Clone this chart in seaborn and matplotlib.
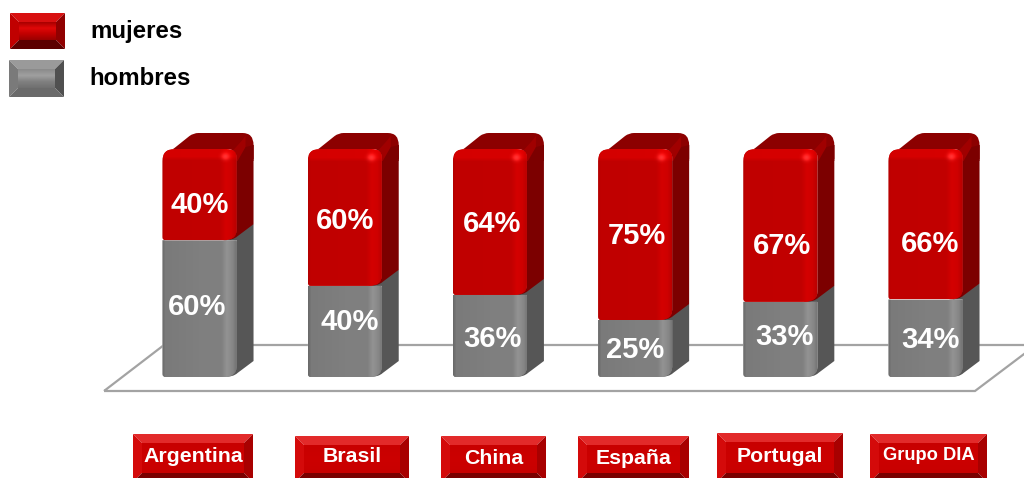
import numpy as np
import pandas as pd
import matplotlib
matplotlib.use("Agg")
import matplotlib.pyplot as plt
import seaborn as sns
from matplotlib.path import Path
from matplotlib.patches import PathPatch, Polygon
from matplotlib.transforms import IdentityTransform
from matplotlib.colors import to_rgb

categories = ["Argentina", "Brasil", "China", "España", "Portugal", "Grupo DIA"]
hombres = [60, 40, 36, 25, 33, 34]
mujeres = [40, 60, 64, 75, 67, 66]
series_names = ["mujeres", "hombres"]

# layout (pixels, y down)
W, H = 1024, 478
muj_off = [(0.5, -10), (0, -4), (2, -2), (2, -1.5), (2, -21), (4.5, -20)]
hom_off = [(-2.5, 1.5), (5, 9.5), (3, -3), (0, -1.5), (4, 2.5), (4.5, -2)]
buttons = [(133, 434, 253), (295, 436, 409), (441, 436, 546),
           (578, 436, 689), (717, 433, 843), (870, 434, 987)]
button_font = [15.3, 15.3, 15.3, 15.3, 15.3, 13.2]
button_dy = [23, 20, 23, 23, 23, 21]

sns.set_theme(style="white")
plt.rcParams["font.family"] = ["Liberation Sans", "DejaVu Sans"]
fig = plt.figure(figsize=(W / 100, H / 100), dpi=100, facecolor="white")

# backdrop axes in pixel units: floor, legend, category buttons
bg = fig.add_axes([0, 0, 1, 1])
bg.set_xlim(0, W)
bg.set_ylim(H, 0)
bg.axis("off")

floor = [(104, 391), (975, 391), (1036, 345), (164, 345)]
bg.add_patch(Polygon(floor, closed=True, fill=False, ec="#a3a3a3", lw=1.6, zorder=1))


def bevel(x0, y0, x1, y1, b, cols, center):
    t, l, r, bt = cols
    bg.add_patch(Polygon([(x0, y0), (x1, y0), (x1 - b, y0 + b), (x0 + b, y0 + b)], fc=t, ec="none"))
    bg.add_patch(Polygon([(x0, y0), (x0 + b, y0 + b), (x0 + b, y1 - b), (x0, y1)], fc=l, ec="none"))
    bg.add_patch(Polygon([(x1, y0), (x1 - b, y0 + b), (x1 - b, y1 - b), (x1, y1)], fc=r, ec="none"))
    bg.add_patch(Polygon([(x0, y1), (x0 + b, y1 - b), (x1 - b, y1 - b), (x1, y1)], fc=bt, ec="none"))
    stops = np.array([to_rgb(c) for c in center])
    v = np.linspace(0, 1, 40)
    img = np.stack([np.interp(v, np.linspace(0, 1, len(stops)), stops[:, k]) for k in range(3)], axis=1)[:, None, :]
    bg.imshow(img, extent=(x0 + b, x1 - b, y1 - b, y0 + b), aspect="auto", interpolation="bilinear", zorder=1.5)
    bg.set_xlim(0, W)
    bg.set_ylim(H, 0)


# legend swatches
bevel(10, 13, 65, 49, 9, ("#d81010", "#c00000", "#900000", "#5c0000"),
      ["#a80000", "#e00808", "#c00000", "#9a0000"])
bevel(9, 60, 64, 97, 9, ("#9a9a9a", "#7a7a7a", "#505050", "#6a6a6a"),
      ["#8a8a8a", "#a0a0a0", "#808080", "#707070"])
bg.text(90, 31, series_names[0], fontsize=17.3, fontweight="bold", color="black", va="center", ha="left")
bg.text(89, 78, series_names[1], fontsize=17.3, fontweight="bold", color="black", va="center", ha="left")

# category buttons
for name, (x0, y0, x1), fs, dy in zip(categories, buttons, button_font, button_dy):
    bevel(x0, y0, x1, 482, 9, ("#e22a2a", "#d40a0a", "#a80000", "#7a0000"),
          ["#c80000", "#cc0000", "#c80000"])
    bg.text((x0 + x1) / 2, y0 + dy, name, fontsize=fs, fontweight="bold", color="white",
            ha="center", va="center")

# bars axes: the scale maps 0-100 onto the bar height
ax = fig.add_axes([126.9 / W, (H - 377) / H, 871.2 / W, 228 / H])
ax.patch.set_alpha(0)
df = pd.DataFrame({"pais": categories, "hombres": hombres, "mujeres": mujeres})
sns.barplot(data=df, x="pais", y="hombres", color="#808080", saturation=1, width=0.51, ax=ax, zorder=2)
sns.barplot(data=df, x="pais", y="mujeres", bottom=df["hombres"], color="#c00000", saturation=1,
            width=0.51, ax=ax, zorder=2)
ax.set_xlim(-0.5, 5.5)
ax.set_ylim(0, 100)
ax.autoscale(False)
ax.axis("off")

ID = IdentityTransform()
DX, DY = 17, 16
n = len(categories)
hom_bars, muj_bars = ax.patches[:n], ax.patches[n:n * 2]


def to_disp(bar):
    (L, b), (R, T) = ax.transData.transform([(bar.get_x(), bar.get_y()),
                                             (bar.get_x() + bar.get_width(), bar.get_y() + bar.get_height())])
    return L, R, b, T


def front_path(L, R, b, T, cap):
    rt = 12 if cap else 0
    rr = 10
    lb = 3
    v = [(L + lb, b), (R - 13, b), (R, b), (R, b + rr)]
    c = [Path.MOVETO, Path.LINETO, Path.CURVE3, Path.CURVE3]
    if cap:
        v += [(R, T - 8), (R, T), (R - 10, T), (L + rt, T), (L, T), (L, T - rt)]
        c += [Path.LINETO, Path.CURVE3, Path.CURVE3, Path.LINETO, Path.CURVE3, Path.CURVE3]
    else:
        v += [(R, T), (L, T)]
        c += [Path.LINETO, Path.LINETO]
    v += [(L, b + lb), (L, b), (L + lb, b), (L + lb, b)]
    c += [Path.LINETO, Path.CURVE3, Path.CURVE3, Path.CLOSEPOLY]
    return Path(v, c)


def side_path(R, b, T):
    v = [(R - 13, b), (R - 3, b), (R + 1, b + 4), (R + DX, b + DY), (R + DX, T + DY), (R - 13, T + DY), (R - 13, b)]
    c = [Path.MOVETO, Path.CURVE3, Path.CURVE3, Path.LINETO, Path.LINETO, Path.LINETO, Path.CLOSEPOLY]
    return Path(v, c)


RED_U = (np.array([0, .03, .78, .86, .93, 1]), ["#b40000", "#c00000", "#c20000", "#d40000", "#cf0000", "#b80000"])
GRY_U = (np.array([0, .04, .5, .8, .87, .95, 1]), ["#6a6a6a", "#7a7a7a", "#7f7f7f", "#808080", "#939393", "#868686", "#727272"])


def face_image(L, R, b, T, ramp, cap):
    w, h = int(R - L) + 1, max(int(T - b) + 1, 2)
    u = np.linspace(0, 1, w)
    stops = np.array([to_rgb(c) for c in ramp[1]])
    row = np.stack([np.interp(u, ramp[0], stops[:, k]) for k in range(3)], axis=1)
    img = np.repeat(row[None, :, :], h, axis=0)
    if cap:
        yy = np.arange(h)[:, None]
        band = np.clip((12 - yy) / 4, 0, 1)
        img = img.copy()
        img[:, :, 0] = np.clip(img[:, :, 0] + 0.08 * band, 0, 1)
        xx = np.arange(w)[None, :]
        blob = np.exp(-(((xx - (w - 12)) / 4.0) ** 2 + ((yy - 8) / 3.5) ** 2))
        img[:, :, 0] = np.clip(img[:, :, 0] + 0.2 * blob, 0, 1)
        img[:, :, 1] = np.clip(img[:, :, 1] + 0.2 * blob, 0, 1)
        img[:, :, 2] = np.clip(img[:, :, 2] + 0.2 * blob, 0, 1)
    return img


def draw_segment(bar, ramp, side_col, cap, z):
    L, R, b, T = to_disp(bar)
    top = T - 12 if cap else T
    ax.add_patch(PathPatch(side_path(R, b, top), fc=side_col, ec="none", transform=ID, zorder=z, clip_on=False))
    if cap:
        sil = Path([(L + 1, T - 12), (L + 4, T - 4), (L + 12, T + 1), (L + 27, T + DY - 3), (L + 31, T + DY),
                    (L + 36, T + DY), (R + 6, T + DY), (R + DX, T + DY), (R + DX, T + DY - 12),
                    (R + DX, T - 10), (R, T - 10), (L + 1, T - 12)],
                   [Path.MOVETO, Path.CURVE3, Path.CURVE3, Path.LINETO, Path.CURVE3, Path.CURVE3, Path.LINETO,
                    Path.CURVE3, Path.CURVE3, Path.LINETO, Path.LINETO, Path.CLOSEPOLY])
        ax.add_patch(PathPatch(sil, fc="#8c0000", ec="none", transform=ID, zorder=z, clip_on=False))
        ax.add_patch(Polygon([(R - 4, T - 2), (R + 5, T + DY - 8), (R + 9, T + DY - 3), (R + 9, T - 12), (R, T - 12)],
                             closed=True, fc="#a00000", ec="none", transform=ID, zorder=z, clip_on=False))
        ax.add_patch(Polygon([(R + 1, T - 12), (R + DX, T - 12), (R + DX, T + 4), (R + 9, T + 2)],
                             closed=True, fc=side_col, ec="none", transform=ID, zorder=z, clip_on=False))
    fp = front_path(L, R, b, T, cap)
    clipper = PathPatch(fp, transform=ID, fc="none", ec="none")
    ax.add_patch(clipper)
    bar.set_clip_path(clipper)
    bar.set_zorder(z + 0.1)
    im = ax.imshow(face_image(L, R, b, T, ramp, cap), extent=(L, R, b, T), transform=ID, origin="upper",
                   aspect="auto", interpolation="bilinear", zorder=z + 0.2)
    im.set_clip_path(clipper)


for bar in hom_bars:
    draw_segment(bar, GRY_U, "#565656", False, 3)
for bar in muj_bars:
    draw_segment(bar, RED_U, "#7c0000", True, 4)
ax.set_xlim(-0.5, 5.5)
ax.set_ylim(0, 100)


def label(bar, value, off):
    ax.annotate(f"{value}%", xy=(bar.get_x() + bar.get_width() / 2, bar.get_y() + bar.get_height() / 2),
                xytext=off, textcoords="offset pixels", ha="center", va="center", color="white",
                fontsize=21, fontweight="bold", zorder=6)


for bar, v, o in zip(hom_bars, hombres, hom_off):
    label(bar, v, o)
for bar, v, o in zip(muj_bars, mujeres, muj_off):
    label(bar, v, o)

fig.savefig("out.png", dpi=100)
